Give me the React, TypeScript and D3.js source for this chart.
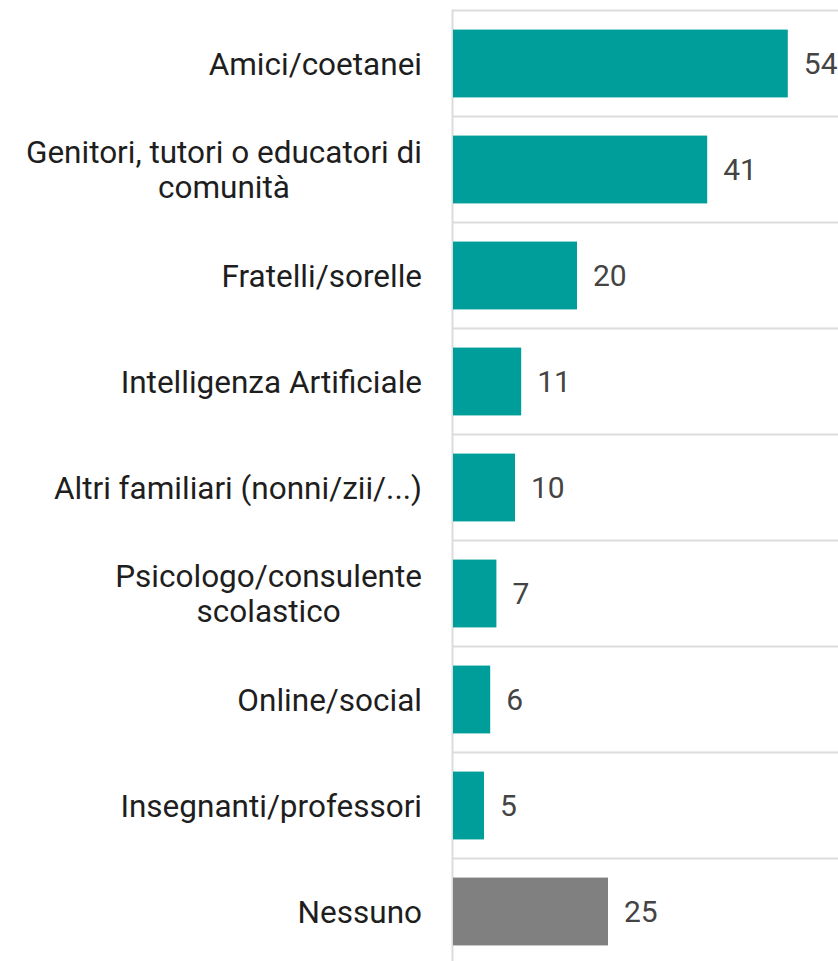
import React from "react";
import * as d3 from "d3";

const categories: string[][] = [
  ["Amici/coetanei"],
  ["Genitori, tutori o educatori di", "comunità"],
  ["Fratelli/sorelle"],
  ["Intelligenza Artificiale"],
  ["Altri familiari (nonni/zii/...)"],
  ["Psicologo/consulente", "scolastico"],
  ["Online/social"],
  ["Insegnanti/professori"],
  ["Nessuno"],
];
const values: number[] = [54, 41, 20, 11, 10, 7, 6, 5, 25];
const barColors: string[] = ["#009E9A", "#009E9A", "#009E9A", "#009E9A", "#009E9A", "#009E9A", "#009E9A", "#009E9A", "#808080"];

const W = 838;
const H = 961;
const FONT = "Roboto, 'Noto Sans', sans-serif";
const FS = 31.5;
const VFS = 30;
const FW = 400;

function measure(s: string): number {
  const c = document.createElement("canvas");
  const ctx = c.getContext("2d")!;
  ctx.font = `${FW} ${FS}px Roboto`;
  return ctx.measureText(s).width;
}

export default function App() {
  const axisX = 453;
  const top = 10.5;
  const band = 106;
  const labelRight = 422;
  const x = d3.scaleLinear().domain([0, 62.1]).range([axisX, W]);
  const idx = categories.map((_, i) => String(i));
  const y = d3
    .scaleBand<string>()
    .domain(idx)
    .range([top, top + band * categories.length])
    .paddingInner(0.36)
    .paddingOuter(0.18);
  return (
    <svg
      width={W}
      height={H}
      style={{ position: "absolute", left: 0, top: 0, background: "#fff" }}
      fontFamily={FONT}
    >
      {categories.map((_, i) => (
        <line
          key={"g" + i}
          x1={axisX}
          x2={W}
          y1={top + band * i}
          y2={top + band * i}
          stroke="#dcdcdc"
          strokeWidth={2}
        />
      ))}
      <line x1={axisX - 0.5} x2={axisX - 0.5} y1={top - 1} y2={H} stroke="#dcdcdc" strokeWidth={2} />
      {values.map((v, i) => {
        const yy = y(String(i))!;
        const bh = y.bandwidth();
        const cy = yy + bh / 2;
        const lines = categories[i];
        const lh = 35;
        const multi = lines.length > 1;
        const maxW = multi ? Math.max(...lines.map(measure)) : 0;
        return (
          <g key={i}>
            <rect x={x(0)} y={yy} width={x(v) - x(0)} height={bh} fill={barColors[i]} />
            <text x={x(v) + 16} y={cy} dy="0.36em" fontSize={VFS} fontWeight={FW} fill="#444">
              {v}
            </text>
            {lines.map((l, j) => (
              <text
                key={j}
                x={multi ? labelRight - maxW / 2 : labelRight}
                y={cy + (j - (lines.length - 1) / 2) * lh}
                dy="0.36em"
                fontSize={FS}
                fontWeight={FW}
                textAnchor={multi ? "middle" : "end"}
                fill="#1e1e1e"
              >
                {l}
              </text>
            ))}
          </g>
        );
      })}
    </svg>
  );
}
